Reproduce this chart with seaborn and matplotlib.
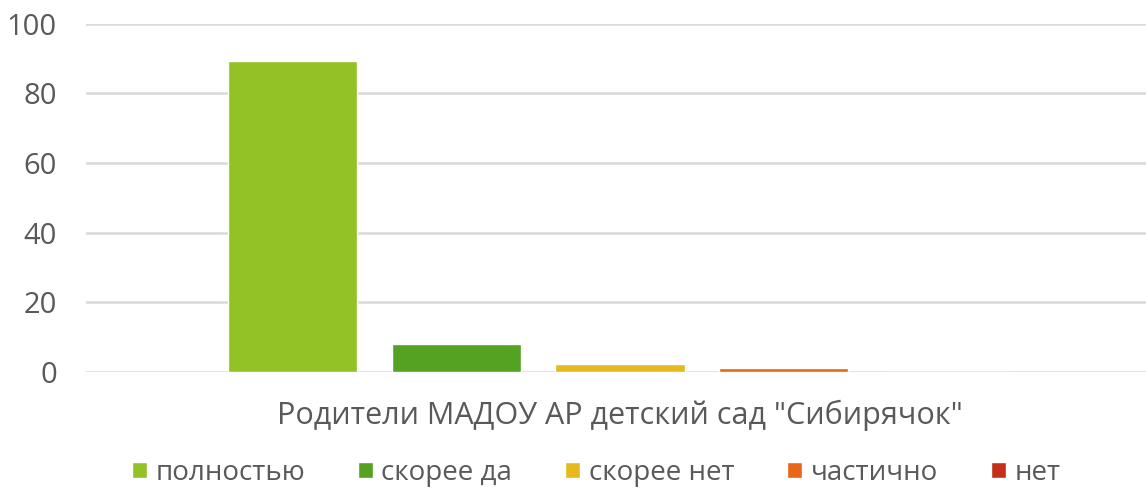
import matplotlib
matplotlib.use("Agg")
import matplotlib.pyplot as plt
import seaborn as sns
import pandas as pd

categories = ['Родители МАДОУ АР детский сад "Сибирячок"']
series = ["полностью", "скорее да", "скорее нет", "частично", "нет"]
values = [89.2, 8, 2.2, 1.0, 0]
colors = ["#92C225", "#55A121", "#E6B91E", "#E76618", "#C42F1A"]
yticks = [0, 20, 40, 60, 80, 100]

df = pd.DataFrame({"cat": categories * len(series), "series": series, "value": values})

sns.set_theme(style="white")
plt.rcParams["font.family"] = ["Open Sans", "DejaVu Sans"]
text_color = "#595959"

fig = plt.figure(figsize=(11.46, 4.9), dpi=100)
ax = fig.add_axes([0.075, 0.241, 0.925, 0.711])
sns.barplot(data=df, x="cat", y="value", hue="series", hue_order=series,
            palette=colors, width=0.772, gap=0.21, saturation=1, ax=ax, legend=True)
ax.set_xlim(-0.5038, 0.4962)
ax.set_ylim(0, 100)
ax.set_yticks(yticks)
ax.yaxis.grid(True, color="#d9d9d9", linewidth=1.8)
ax.set_axisbelow(True)
for s in ax.spines.values():
    s.set_visible(False)
ax.set_xlabel("")
ax.set_ylabel("")
ax.tick_params(axis="y", labelsize=21, colors=text_color, length=0, pad=21)
ax.tick_params(axis="x", labelsize=22, colors=text_color, length=0, pad=20)

handles, labels = ax.get_legend_handles_labels()
ax.legend_.remove()
fig.legend(handles, labels, loc="center", bbox_to_anchor=(0.52, 0.035), ncol=5,
           frameon=False, fontsize=20, labelcolor=text_color, handlelength=0.55,
           handleheight=0.55, handletextpad=0.3, columnspacing=1.9)
fig.savefig("out.png", dpi=100)
